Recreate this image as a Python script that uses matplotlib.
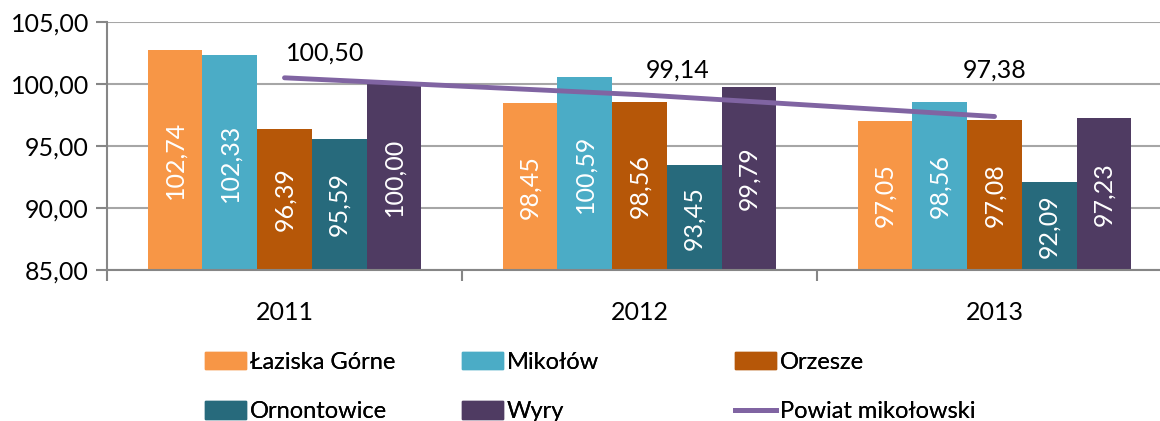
import matplotlib
matplotlib.use("Agg")

import matplotlib.pyplot as plt
from matplotlib.lines import Line2D
from matplotlib.patches import Patch
import numpy as np

years = ["2011", "2012", "2013"]
series_names = ["Łaziska Górne", "Mikołów", "Orzesze", "Ornontowice", "Wyry"]
lazyska = [102.74, 98.45, 97.05]
mikolow = [102.33, 100.59, 98.56]
orzesze = [96.39, 98.56, 97.08]
ornontowice = [95.59, 93.45, 92.09]
wyry = [100.00, 99.79, 97.23]
powiat = [100.50, 99.14, 97.38]
powiat_name = "Powiat mikołowski"

colors = ["#F79646", "#4BACC6", "#B65708", "#276A7C", "#4F3B62"]
line_color = "#8064A2"

plt.rcParams["font.family"] = ["Lato", "DejaVu Sans"]
FS = 18

fig = plt.figure(figsize=(11.6, 4.21), dpi=100)
ax = fig.add_axes([107 / 1160, 1 - 270 / 421, (1172 - 107) / 1160, (270 - 22) / 421])

x = np.arange(len(years))
bw = 0.154
all_series = [lazyska, mikolow, orzesze, ornontowice, wyry]
for i, (vals, c) in enumerate(zip(all_series, colors)):
    pos = x + (i - 2) * bw
    ax.bar(pos, np.array(vals) - 85, bottom=85, width=bw, color=c, zorder=2)
    for px, v in zip(pos, vals):
        ax.text(px, (85 + v) / 2, f"{v:.2f}".replace(".", ","), rotation=90,
                ha="center", va="center", color="white", fontsize=FS, zorder=3)

ax.plot(x, powiat, color=line_color, lw=3.5, solid_capstyle="round", zorder=4)
# label placement (Excel labels were moved by hand)
offsets = [(29.5, 2.0), (27.5, 2.0), (0, 3.75)]
for xi, v, (dx, dy) in zip(x, powiat, offsets):
    ax.annotate(f"{v:.2f}".replace(".", ","), (xi, v + dy), xytext=(dx, 0),
                textcoords="offset points", ha="center", va="center",
                fontsize=FS, color="black")

ax.set_xlim(-0.5, 2.5)
ax.set_ylim(85, 105)
ax.set_yticks([85, 90, 95, 100, 105])
ax.set_yticklabels([f"{t},00" for t in [85, 90, 95, 100, 105]], fontsize=FS)
ax.set_xticks(x)
ax.set_xticklabels(years, fontsize=FS)
ax.set_xticks([-0.5, 0.5, 1.5, 2.5], minor=True)
ax.tick_params(axis="x", which="major", length=0, pad=22)
ax.tick_params(axis="x", which="minor", length=8, color="#868686", width=1.5)
ax.tick_params(axis="y", length=8, color="#868686", width=1.5, pad=5)
ax.yaxis.grid(True, color="#A6A6A6", lw=1.5, zorder=0)
ax.set_axisbelow(True)
for s in ["top", "right"]:
    ax.spines[s].set_visible(False)
for s in ["left", "bottom"]:
    ax.spines[s].set_color("#868686")
    ax.spines[s].set_linewidth(1.5)

# legend: three columns placed separately, like Excel
col_handles = [
    ([Patch(color=colors[0]), Patch(color=colors[3])], [series_names[0], series_names[3]], 205),
    ([Patch(color=colors[1]), Patch(color=colors[4])], [series_names[1], series_names[4]], 462),
    ([Patch(color=colors[2]), Line2D([], [], color=line_color, lw=3.5)], [series_names[2], powiat_name], 735),
]
for handles, labels, xpix in col_handles:
    leg = fig.legend(handles, labels, loc="upper left",
                     bbox_to_anchor=(xpix / 1160, 1 - 352 / 421),
                     frameon=False, fontsize=FS - 1, handlelength=1.75, handleheight=0.75,
                     handletextpad=0.15, labelspacing=1.2, borderpad=0, borderaxespad=0)
    fig.add_artist(leg)

fig.savefig("out.png", dpi=100)
